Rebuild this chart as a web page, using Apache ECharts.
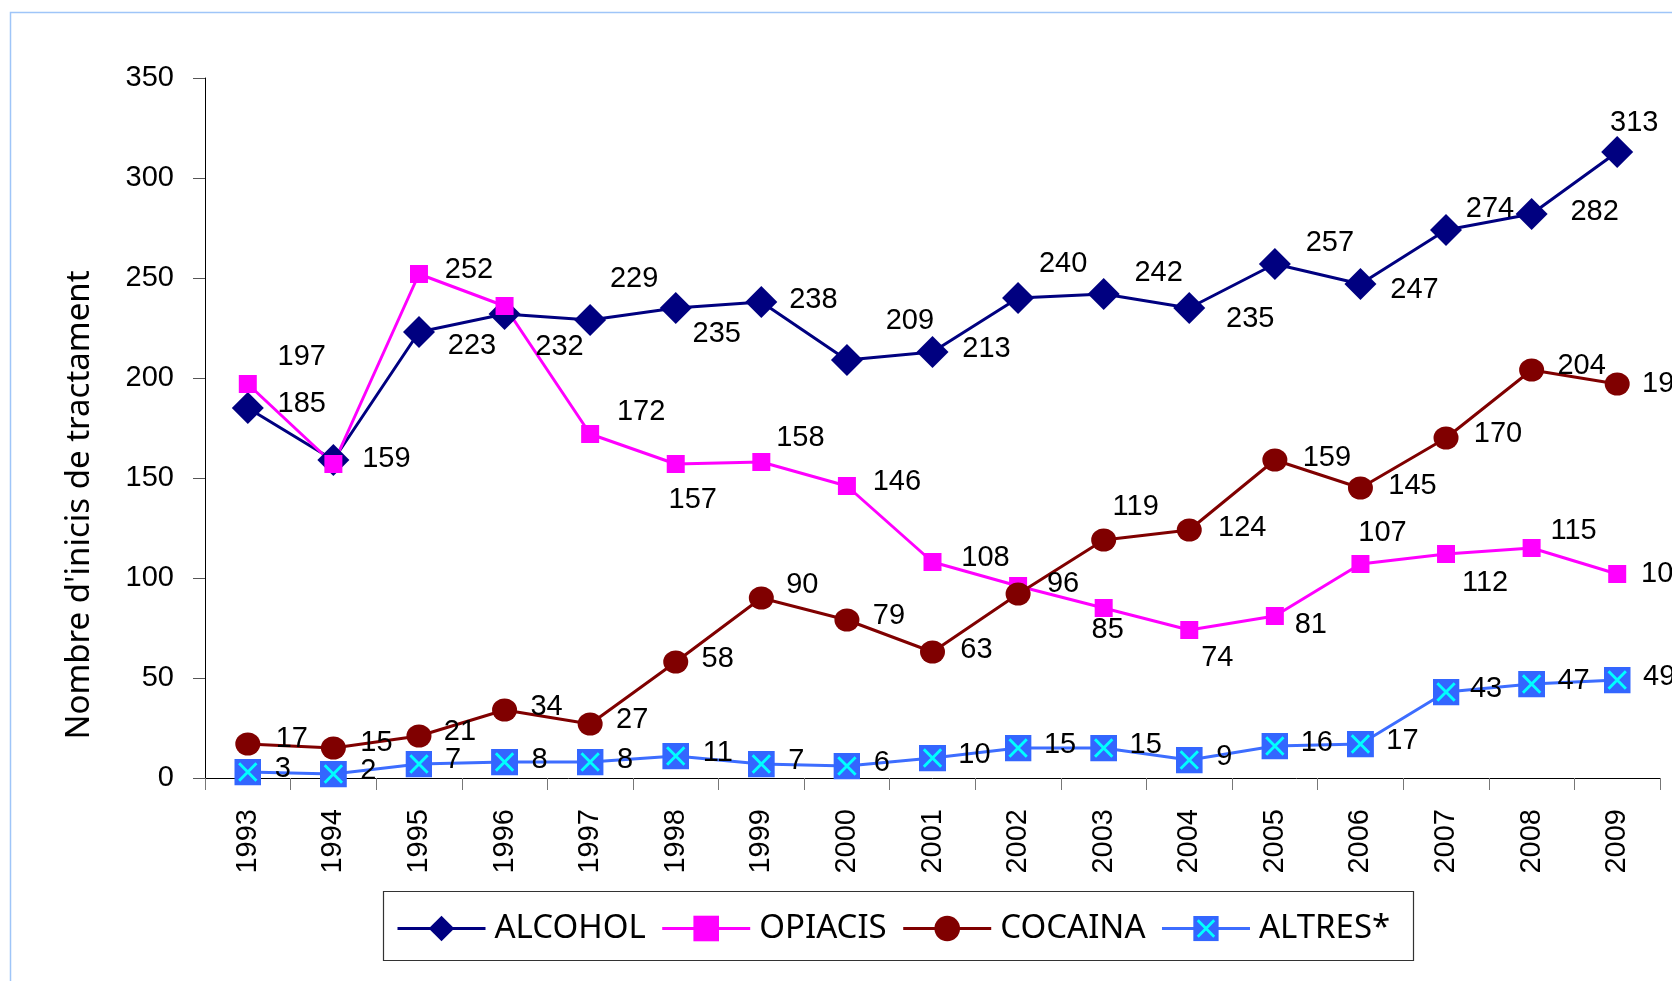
<!DOCTYPE html>
<html>
<head>
<meta charset="utf-8">
<script src="https://cdn.jsdelivr.net/npm/echarts@6/dist/echarts.min.js"></script>
<style>
html, body { margin: 0; padding: 0; background: #fff; }
#chart { width: 1672px; height: 981px; }
</style>
</head>
<body>
<div id="chart"></div>
<script>
// categories
var years = ['1993', '1994', '1995', '1996', '1997', '1998', '1999', '2000', '2001',
  '2002', '2003', '2004', '2005', '2006', '2007', '2008', '2009'];

// series values
var alcohol = [185, 159, 223, 232, 229, 235, 238, 209, 213, 240, 242, 235, 257, 247, 274, 282, 313];
var opiacis = [197, 157, 252, 236, 172, 157, 158, 146, 108, 96, 85, 74, 81, 107, 112, 115, 102];
var cocaina = [17, 15, 21, 34, 27, 58, 90, 79, 63, 92, 119, 124, 159, 145, 170, 204, 197];
var altres = [3, 2, 7, 8, 8, 11, 7, 6, 10, 15, 15, 9, 16, 17, 43, 47, 49];

// y axis ticks
var yMin = 0, yMax = 350, yStep = 50;

// where each value label sits, relative to its marker (null = no label)
var alcoholLbl = [[54, -4], [53, -1], [53, 14], [55, 33], [44, -41], [41, 26], [52, -2], [63, -39], [54, -3],
  [45, -34], [55, -21], [61, 11], [55, -21], [54, 6], [44, -21], [63, -2], [17, -29]];
var opiacisLbl = [[54, -27], null, [50, -4], null, [51, -22], [17, 36], [39, -24], [50, -4], [53, -4],
  [45, -2], [4, 22], [28, 28], [36, 9], [22, -31], [39, 29], [42, -17], [48, 0]];
var cocainaLbl = [[44, -5], [43, -5], [41, -4], [42, -3], [42, -4], [42, -3], [41, -13], [42, -4], [44, -2],
  null, [32, -33], [53, -2], [52, -2], [52, -2], [52, -4], [50, -4], [49, 0]];
var altresLbl = [[35, -3], [35, -3], [34, -4], [35, -2], [35, -2], [42, -3], [35, -3], [35, -3], [42, -3],
  [42, -3], [42, -3], [35, -3], [42, -3], [42, -3], [40, -3], [42, -3], [42, -3]];

var numFont = '"Liberation Sans Narrow", "Arial Narrow", "Liberation Sans", sans-serif';
var numSize = 29;

function withLabels(values, offs) {
  return values.map(function (v, i) {
    var o = offs[i];
    if (!o) return { value: v, label: { show: false } };
    return { value: v, label: { show: true, offset: o } };
  });
}

// blue square with a cyan cross for ALTRES*
var crossSvg = '<svg xmlns="http://www.w3.org/2000/svg" width="28" height="28" viewBox="0 0 28 28">' +
  '<rect x="0" y="0" width="28" height="28" fill="#3366ff"/>' +
  '<path d="M5 5 L23 23 M23 5 L5 23" stroke="#00ffff" stroke-width="3"/></svg>';
var crossSymbol = 'image://data:image/svg+xml;charset=utf-8,' + encodeURIComponent(crossSvg);

var labelStyle = {
  position: 'inside',
  color: '#000',
  fontFamily: numFont,
  fontSize: numSize,
  align: 'center',
  verticalAlign: 'middle'
};

var chart = echarts.init(document.getElementById('chart'));
chart.setOption({
  animation: false,
  backgroundColor: '#fff',
  grid: { left: 205, right: 12, top: 78, bottom: 203 },
  legend: {
    left: 396,
    top: 912,
    padding: 0,
    itemWidth: 88,
    itemHeight: 32,
    itemGap: 15,
    lineStyle: { width: 3 },
    textStyle: { fontFamily: '"Noto Sans", sans-serif', fontSize: 33, color: '#000', lineHeight: 33, padding: [0, 0, 0, 4] },
    data: [
      { name: 'ALCOHOL', lineStyle: { width: 3 } },
      { name: 'OPIACIS', lineStyle: { width: 3 } },
      { name: 'COCAINA', lineStyle: { width: 3 } },
      { name: 'ALTRES*', lineStyle: { width: 3 } }
    ]
  },
  graphic: [
    {
      type: 'rect', silent: true, z: -1,
      shape: { x: 10.5, y: 12.5, width: 1700, height: 1000 },
      style: { fill: null, stroke: '#9fc5f8', lineWidth: 1.5 }
    },
    {
      type: 'rect', silent: true,
      shape: { x: 383.5, y: 891.5, width: 1030, height: 69 },
      style: { fill: null, stroke: '#333', lineWidth: 1.2 }
    },
    {
      type: 'text', silent: true,
      x: 80, y: 505, rotation: Math.PI / 2,
      style: {
        text: "Nombre d'inicis de tractament",
        font: '33px "Noto Sans", sans-serif',
        fill: '#000',
        align: 'center',
        verticalAlign: 'middle'
      }
    }
  ],
  xAxis: {
    type: 'category',
    data: years,
    boundaryGap: true,
    axisLine: { lineStyle: { color: '#000', width: 1 } },
    axisTick: { show: true, interval: 0, length: 12, lineStyle: { color: '#777' } },
    axisLabel: { interval: 0, rotate: 90, margin: 31, color: '#000', fontFamily: numFont, fontSize: numSize },
    splitLine: { show: false }
  },
  yAxis: {
    type: 'value',
    min: yMin,
    max: yMax,
    interval: yStep,
    axisLine: { show: true, lineStyle: { color: '#000', width: 1 } },
    axisTick: { show: true, length: 12, lineStyle: { color: '#555' } },
    axisLabel: { margin: 31, color: '#000', fontFamily: numFont, fontSize: numSize },
    splitLine: { show: false }
  },
  series: [
    {
      name: 'ALCOHOL', type: 'line',
      data: withLabels(alcohol, alcoholLbl),
      symbol: 'diamond', symbolSize: 32,
      lineStyle: { color: '#000080', width: 3 },
      itemStyle: { color: '#000080' },
      label: labelStyle
    },
    {
      name: 'OPIACIS', type: 'line',
      data: withLabels(opiacis, opiacisLbl),
      symbol: 'rect', symbolSize: 18,
      lineStyle: { color: '#ff00ff', width: 3 },
      itemStyle: { color: '#ff00ff' },
      label: labelStyle
    },
    {
      name: 'COCAINA', type: 'line',
      data: withLabels(cocaina, cocainaLbl),
      symbol: 'circle', symbolSize: [25, 23],
      lineStyle: { color: '#800000', width: 3 },
      itemStyle: { color: '#800000' },
      label: labelStyle
    },
    {
      name: 'ALTRES*', type: 'line',
      data: withLabels(altres, altresLbl),
      symbol: crossSymbol, symbolSize: 27,
      lineStyle: { color: '#3d6dff', width: 3 },
      itemStyle: { color: '#3366ff' },
      label: labelStyle
    }
  ]
});
</script>
</body>
</html>
